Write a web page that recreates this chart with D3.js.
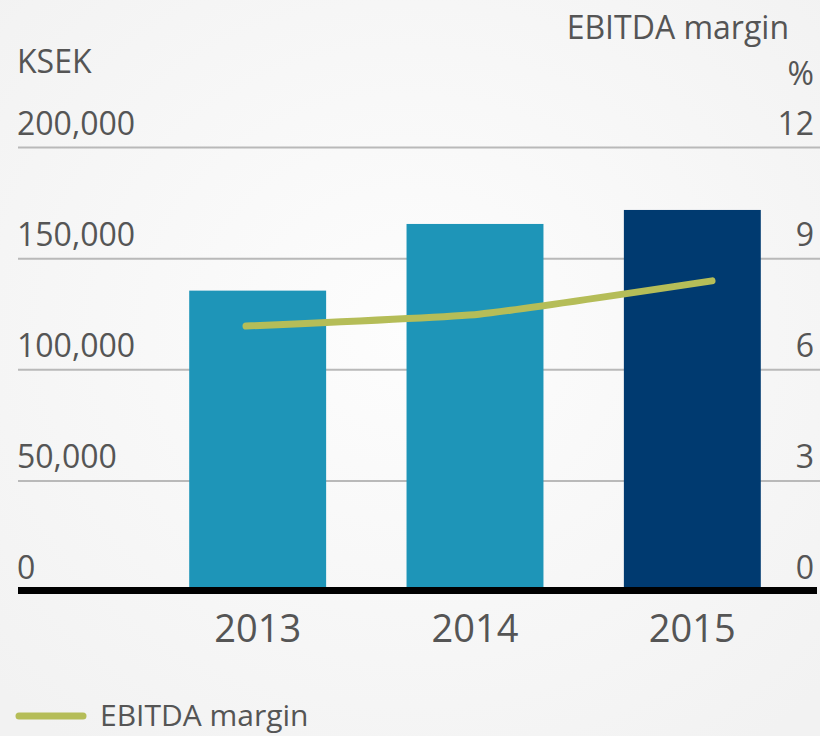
<!DOCTYPE html>
<html>
<head>
<meta charset="utf-8">
<script src="https://cdn.jsdelivr.net/npm/d3@7"></script>
<style>
  html, body { margin: 0; padding: 0; }
  body { width: 820px; height: 736px; overflow: hidden; }
  #chart { width: 820px; height: 736px; }
  text { font-family: "Open Sans", sans-serif; fill: #555; }
</style>
</head>
<body>
<div id="chart"></div>
<script>
const years = ["2013", "2014", "2015"];
const ebitda = [135600, 165600, 171900];
const margin_pct = [7.18, 7.5, 8.4];
const leftTicks = [0, 50000, 100000, 150000, 200000];
const rightTicks = [0, 3, 6, 9, 12];
const barColors = ["#1e95b8", "#1e95b8", "#003a70"];

const width = 820;
const height = 736;
const labelSize = 32;

const svg = d3.select("#chart")
    .append("svg")
    .attr("width", width)
    .attr("height", height);

/* soft grey background */
const grad = svg.append("defs").append("radialGradient")
    .attr("id", "bg").attr("cx", "50%").attr("cy", "45%").attr("r", "70%");
grad.append("stop").attr("offset", "0%").attr("stop-color", "#fdfdfd");
grad.append("stop").attr("offset", "100%").attr("stop-color", "#f2f2f2");
svg.append("rect").attr("width", width).attr("height", height).attr("fill", "url(#bg)");

const xScale = d3.scaleBand()
    .domain(years)
    .range([149, 801])
    .paddingInner(0.37)
    .paddingOuter(0.185);

const yScale = d3.scaleLinear()
    .domain([0, 200000])
    .range([592, 147.5]);

const y2Scale = d3.scaleLinear()
    .domain([0, 12])
    .range([592, 147.5]);

// line points are spread a little wider than the bar centres
const lineX = d3.scalePoint()
    .domain(years)
    .range([246, 712]);

/* gridlines */
svg.append("g")
    .selectAll("line")
    .data(leftTicks.filter(d => d > 0))
    .enter()
    .append("line")
        .attr("x1", 18)
        .attr("x2", 820)
        .attr("y1", d => yScale(d))
        .attr("y2", d => yScale(d))
        .attr("stroke", "#b9b9b9")
        .attr("stroke-width", 2);

/* left tick labels */
svg.append("g")
    .selectAll("text")
    .data(leftTicks)
    .enter()
    .append("text")
        .attr("x", 17)
        .attr("y", d => yScale(d) - 13)
        .attr("font-size", labelSize)
        .text(d => d3.format(",")(d));

/* right tick labels */
svg.append("g")
    .selectAll("text")
    .data(rightTicks)
    .enter()
    .append("text")
        .attr("x", 814)
        .attr("y", d => y2Scale(d) - 13)
        .attr("text-anchor", "end")
        .attr("font-size", labelSize)
        .text(d => d);

svg.append("text").attr("x", 17).attr("y", 73).attr("font-size", labelSize).text("KSEK");
svg.append("text").attr("x", 789).attr("y", 39).attr("text-anchor", "end").attr("font-size", labelSize).text("EBITDA margin");
svg.append("text").attr("x", 814).attr("y", 85).attr("text-anchor", "end").attr("font-size", labelSize).text("%");

/* bars */
svg.append("g")
    .selectAll("rect")
    .data(ebitda)
    .enter()
    .append("rect")
        .attr("x", (d, i) => xScale(years[i]))
        .attr("y", d => yScale(d))
        .attr("width", xScale.bandwidth())
        .attr("height", d => yScale(0) - yScale(d))
        .attr("fill", (d, i) => barColors[i]);

/* baseline */
svg.append("line")
    .attr("x1", 18).attr("x2", 817)
    .attr("y1", 590.5).attr("y2", 590.5)
    .attr("stroke", "#000")
    .attr("stroke-width", 7);

/* year labels */
svg.append("g")
    .selectAll("text")
    .data(years)
    .enter()
    .append("text")
        .attr("x", d => xScale(d) + xScale.bandwidth() / 2)
        .attr("y", 642)
        .attr("text-anchor", "middle")
        .attr("font-size", 38)
        .attr("fill", "#444")
        .text(d => d);

/* EBITDA margin line */
const line = d3.line()
    .x((d, i) => lineX(years[i]))
    .y(d => y2Scale(d))
    .curve(d3.curveCardinal.tension(0.6));

svg.append("path")
    .datum(margin_pct)
    .attr("d", line)
    .attr("fill", "none")
    .attr("stroke", "#b5bd58")
    .attr("stroke-width", 7)
    .attr("stroke-linecap", "round");

/* legend */
svg.append("line")
    .attr("x1", 19).attr("x2", 83)
    .attr("y1", 716).attr("y2", 716)
    .attr("stroke", "#b5bd58")
    .attr("stroke-width", 7)
    .attr("stroke-linecap", "round");

svg.append("text")
    .attr("x", 100)
    .attr("y", 726)
    .attr("font-size", 30)
    .text("EBITDA margin");
</script>
</body>
</html>
